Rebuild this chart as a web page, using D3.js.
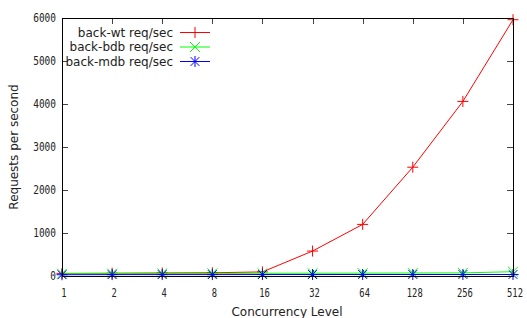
<!DOCTYPE html>
<html>
<head>
<meta charset="utf-8">
<script src="https://cdn.jsdelivr.net/npm/d3@7"></script>
<style>
  body { margin: 0; background: #fff; }
  svg { display: block; }
</style>
</head>
<body>
<svg id="chart" width="527" height="318"></svg>
<script>
// concurrency levels on the x axis (log-ish, evenly spaced)
const levels = ['1', '2', '4', '8', '16', '32', '64', '128', '256', '512'];
const wtValues = [60, 65, 70, 75, 95, 580, 1200, 2530, 4060, 5960];
const bdbValues = [55, 58, 60, 62, 64, 65, 67, 70, 72, 100];
const mdbValues = [30, 32, 33, 33, 34, 34, 35, 35, 35, 35];
const yTicks = [0, 1000, 2000, 3000, 4000, 5000, 6000];
const seriesNames = ['back-wt req/sec', 'back-bdb req/sec', 'back-mdb req/sec'];

const plotLeft = 62, plotRight = 513, plotTop = 18, plotBottom = 276;
const tickLen = 6;

const svg = d3.select('#chart');

const x = d3.scalePoint().domain(levels).range([plotLeft, plotRight]);
const y = d3.scaleLinear().domain([0, 6000]).range([plotBottom, plotTop]);

const series = [
  { name: seriesNames[0], values: wtValues, color: '#ff0000', marker: 'plus' },
  { name: seriesNames[1], values: bdbValues, color: '#00ff00', marker: 'cross' },
  { name: seriesNames[2], values: mdbValues, color: '#0000ff', marker: 'star' }
];

function markerPath(type, cx, cy) {
  const r = 5.5;
  const p = d3.path();
  if (type === 'plus' || type === 'star') {
    p.moveTo(cx - r, cy); p.lineTo(cx + r, cy);
    p.moveTo(cx, cy - r); p.lineTo(cx, cy + r);
  }
  if (type === 'cross' || type === 'star') {
    const d = type === 'star' ? r * 0.8 : r * 0.9;
    p.moveTo(cx - d, cy - d); p.lineTo(cx + d, cy + d);
    p.moveTo(cx - d, cy + d); p.lineTo(cx + d, cy - d);
  }
  return p.toString();
}

// tick marks (inward, mirrored like gnuplot)
const ticks = svg.append('g').attr('stroke', '#444').attr('stroke-width', 1);
yTicks.forEach(v => {
  const yy = Math.round(y(v)) + 0.5;
  ticks.append('line').attr('x1', plotLeft).attr('x2', plotLeft + tickLen).attr('y1', yy).attr('y2', yy);
  ticks.append('line').attr('x1', plotRight - tickLen).attr('x2', plotRight).attr('y1', yy).attr('y2', yy);
});
levels.forEach(l => {
  const xx = Math.round(x(l)) + 0.5;
  ticks.append('line').attr('x1', xx).attr('x2', xx).attr('y1', plotBottom).attr('y2', plotBottom - tickLen);
  ticks.append('line').attr('x1', xx).attr('x2', xx).attr('y1', plotTop).attr('y2', plotTop + tickLen);
});

// tick labels
const tickFont = "'DejaVu Sans Mono', monospace";
svg.append('g').selectAll('text').data(yTicks).join('text')
  .attr('x', plotLeft - 6)
  .attr('y', d => y(d) + 4)
  .attr('text-anchor', 'end')
  .attr('font-family', tickFont)
  .attr('font-size', 11.5)
  .attr('textLength', d => String(d).length * 5.7)
  .attr('lengthAdjust', 'spacingAndGlyphs')
  .attr('fill', '#222')
  .text(d => d);

svg.append('g').selectAll('text').data(levels).join('text')
  .attr('x', d => x(d) + 2)
  .attr('y', plotBottom + 21)
  .attr('text-anchor', 'middle')
  .attr('font-family', tickFont)
  .attr('font-size', 11.5)
  .attr('textLength', d => d.length * 5.3)
  .attr('lengthAdjust', 'spacingAndGlyphs')
  .attr('fill', '#222')
  .text(d => d);

// axis titles
svg.append('text')
  .attr('transform', `translate(18, ${(plotTop + plotBottom) / 2}) rotate(-90)`)
  .attr('text-anchor', 'middle')
  .attr('font-family', "'DejaVu Sans', sans-serif")
  .attr('font-size', 12)
  .attr('fill', '#222')
  .text('Requests per second');

svg.append('text')
  .attr('x', 287)
  .attr('y', 316)
  .attr('text-anchor', 'middle')
  .attr('font-family', "'DejaVu Sans', sans-serif")
  .attr('font-size', 12)
  .attr('fill', '#222')
  .text('Concurrency Level');

// data lines and markers
const line = d3.line().x((d, i) => x(levels[i])).y(d => y(d));
series.forEach(s => {
  const g = svg.append('g');
  g.append('path')
    .attr('d', line(s.values))
    .attr('fill', 'none')
    .attr('stroke', s.color)
    .attr('stroke-width', 1);
  g.selectAll('path.pt').data(s.values).join('path')
    .attr('class', 'pt')
    .attr('d', (d, i) => markerPath(s.marker, x(levels[i]), y(d)))
    .attr('fill', 'none')
    .attr('stroke', s.color)
    .attr('stroke-width', 1);
});

// frame
svg.append('rect')
  .attr('x', plotLeft + 0.5).attr('y', plotTop + 0.5)
  .attr('width', plotRight - plotLeft).attr('height', plotBottom - plotTop)
  .attr('fill', 'none')
  .attr('stroke', '#000')
  .attr('stroke-width', 1);

// legend
const legend = svg.append('g');
series.forEach((s, i) => {
  const ly = 32.5 + i * 14.5;
  legend.append('text')
    .attr('x', 173)
    .attr('y', ly + 4)
    .attr('text-anchor', 'end')
    .attr('font-family', "'DejaVu Sans', sans-serif")
    .attr('font-size', 12)
    .attr('fill', '#222')
    .text(s.name);
  legend.append('line')
    .attr('x1', 180).attr('x2', 210)
    .attr('y1', ly).attr('y2', ly)
    .attr('stroke', s.color);
  legend.append('path')
    .attr('d', markerPath(s.marker, 195, ly))
    .attr('fill', 'none')
    .attr('stroke', s.color);
});
</script>
</body>
</html>
